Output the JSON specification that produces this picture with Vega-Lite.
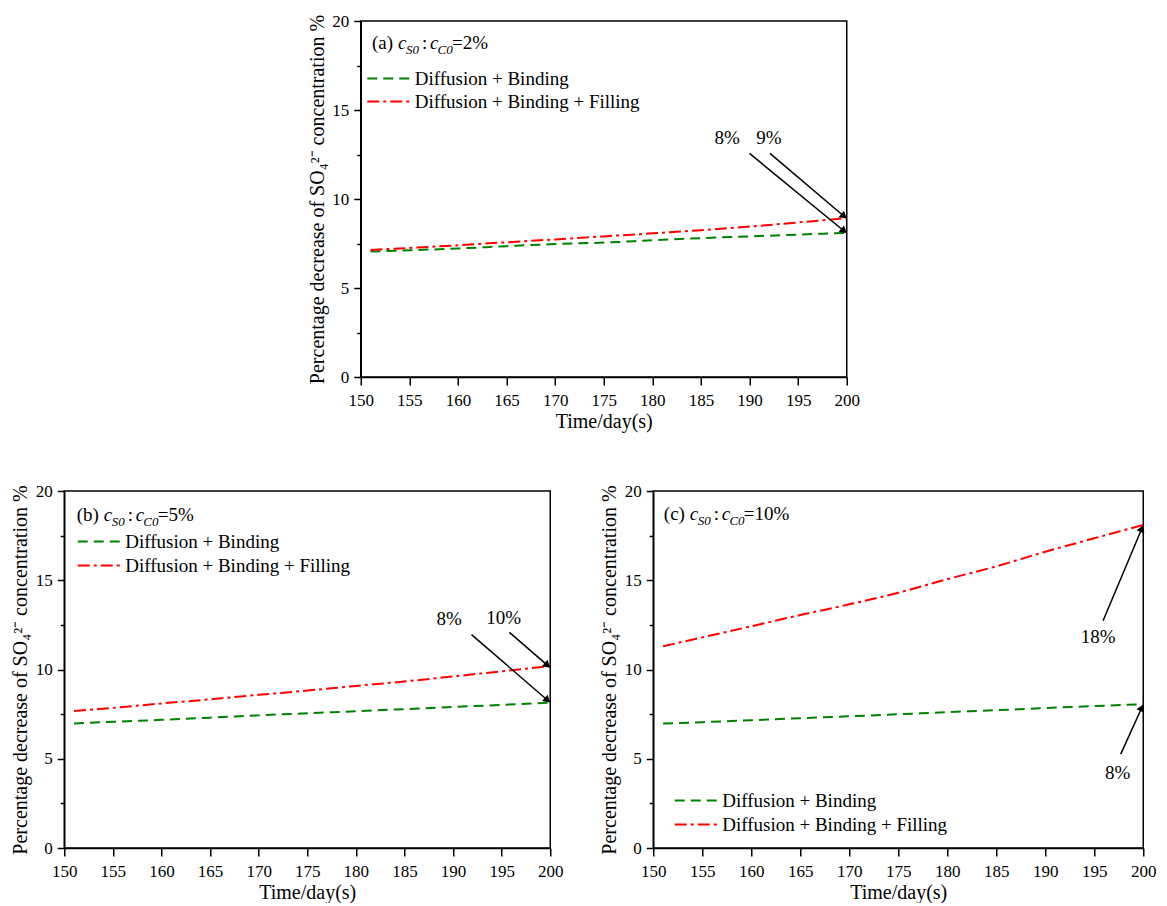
{
  "$schema": "https://vega.github.io/schema/vega-lite/v6.json",
  "padding": {"left": 10, "top": 11, "right": 5, "bottom": 0},
  "config": {
    "font": "Liberation Serif",
    "view": {"stroke": "black", "strokeWidth": 1.5},
    "axis": {"domainColor": "black", "domainWidth": 1.5, "tickColor": "black", "tickWidth": 1.5, "grid": false, "labelFont": "Liberation Serif", "labelFontSize": 17, "labelColor": "black", "titleFont": "Liberation Serif", "titleFontSize": 20, "titleFontWeight": "normal", "titleColor": "black", "labelFlush": false, "labelOverlap": false},
    "legend": {"labelFont": "Liberation Serif", "labelFontSize": 19, "labelColor": "black", "padding": 0, "labelLimit": 0, "symbolType": "M-3,0H3", "symbolSize": 196, "symbolStrokeWidth": 2, "labelOffset": 17, "title": null},
    "text": {"font": "Liberation Serif", "color": "black"}
  },
  "datasets": {
    "curves": [
      {"panel": "a", "series": "Diffusion + Binding", "day": 151, "value": 7.05},
      {"panel": "a", "series": "Diffusion + Binding", "day": 155, "value": 7.12},
      {"panel": "a", "series": "Diffusion + Binding", "day": 160, "value": 7.22},
      {"panel": "a", "series": "Diffusion + Binding", "day": 165, "value": 7.35},
      {"panel": "a", "series": "Diffusion + Binding", "day": 170, "value": 7.47},
      {"panel": "a", "series": "Diffusion + Binding", "day": 175, "value": 7.55},
      {"panel": "a", "series": "Diffusion + Binding", "day": 180, "value": 7.68},
      {"panel": "a", "series": "Diffusion + Binding", "day": 185, "value": 7.8},
      {"panel": "a", "series": "Diffusion + Binding", "day": 190, "value": 7.9},
      {"panel": "a", "series": "Diffusion + Binding", "day": 195, "value": 8.0},
      {"panel": "a", "series": "Diffusion + Binding", "day": 200, "value": 8.1},
      {"panel": "a", "series": "Diffusion + Binding + Filling", "day": 151, "value": 7.14},
      {"panel": "a", "series": "Diffusion + Binding + Filling", "day": 155, "value": 7.25},
      {"panel": "a", "series": "Diffusion + Binding + Filling", "day": 160, "value": 7.4},
      {"panel": "a", "series": "Diffusion + Binding + Filling", "day": 165, "value": 7.57},
      {"panel": "a", "series": "Diffusion + Binding + Filling", "day": 170, "value": 7.73},
      {"panel": "a", "series": "Diffusion + Binding + Filling", "day": 175, "value": 7.9},
      {"panel": "a", "series": "Diffusion + Binding + Filling", "day": 180, "value": 8.07},
      {"panel": "a", "series": "Diffusion + Binding + Filling", "day": 185, "value": 8.25},
      {"panel": "a", "series": "Diffusion + Binding + Filling", "day": 190, "value": 8.45},
      {"panel": "a", "series": "Diffusion + Binding + Filling", "day": 195, "value": 8.68},
      {"panel": "a", "series": "Diffusion + Binding + Filling", "day": 200, "value": 8.93},
      {"panel": "b", "series": "Diffusion + Binding", "day": 151, "value": 6.98},
      {"panel": "b", "series": "Diffusion + Binding", "day": 155, "value": 7.07},
      {"panel": "b", "series": "Diffusion + Binding", "day": 160, "value": 7.18},
      {"panel": "b", "series": "Diffusion + Binding", "day": 165, "value": 7.3},
      {"panel": "b", "series": "Diffusion + Binding", "day": 170, "value": 7.43},
      {"panel": "b", "series": "Diffusion + Binding", "day": 175, "value": 7.55},
      {"panel": "b", "series": "Diffusion + Binding", "day": 180, "value": 7.66},
      {"panel": "b", "series": "Diffusion + Binding", "day": 185, "value": 7.78},
      {"panel": "b", "series": "Diffusion + Binding", "day": 190, "value": 7.9},
      {"panel": "b", "series": "Diffusion + Binding", "day": 195, "value": 8.02},
      {"panel": "b", "series": "Diffusion + Binding", "day": 200, "value": 8.15},
      {"panel": "b", "series": "Diffusion + Binding + Filling", "day": 151, "value": 7.68},
      {"panel": "b", "series": "Diffusion + Binding + Filling", "day": 155, "value": 7.85},
      {"panel": "b", "series": "Diffusion + Binding + Filling", "day": 160, "value": 8.1},
      {"panel": "b", "series": "Diffusion + Binding + Filling", "day": 165, "value": 8.33},
      {"panel": "b", "series": "Diffusion + Binding + Filling", "day": 170, "value": 8.58},
      {"panel": "b", "series": "Diffusion + Binding + Filling", "day": 175, "value": 8.82},
      {"panel": "b", "series": "Diffusion + Binding + Filling", "day": 180, "value": 9.08},
      {"panel": "b", "series": "Diffusion + Binding + Filling", "day": 185, "value": 9.33},
      {"panel": "b", "series": "Diffusion + Binding + Filling", "day": 190, "value": 9.61},
      {"panel": "b", "series": "Diffusion + Binding + Filling", "day": 195, "value": 9.9},
      {"panel": "b", "series": "Diffusion + Binding + Filling", "day": 200, "value": 10.2},
      {"panel": "c", "series": "Diffusion + Binding", "day": 151, "value": 6.97},
      {"panel": "c", "series": "Diffusion + Binding", "day": 155, "value": 7.05},
      {"panel": "c", "series": "Diffusion + Binding", "day": 160, "value": 7.16},
      {"panel": "c", "series": "Diffusion + Binding", "day": 165, "value": 7.27},
      {"panel": "c", "series": "Diffusion + Binding", "day": 170, "value": 7.38},
      {"panel": "c", "series": "Diffusion + Binding", "day": 175, "value": 7.49},
      {"panel": "c", "series": "Diffusion + Binding", "day": 180, "value": 7.61},
      {"panel": "c", "series": "Diffusion + Binding", "day": 185, "value": 7.72},
      {"panel": "c", "series": "Diffusion + Binding", "day": 190, "value": 7.84},
      {"panel": "c", "series": "Diffusion + Binding", "day": 195, "value": 7.95},
      {"panel": "c", "series": "Diffusion + Binding", "day": 200, "value": 8.06},
      {"panel": "c", "series": "Diffusion + Binding + Filling", "day": 151, "value": 11.3},
      {"panel": "c", "series": "Diffusion + Binding + Filling", "day": 155, "value": 11.8},
      {"panel": "c", "series": "Diffusion + Binding + Filling", "day": 160, "value": 12.42},
      {"panel": "c", "series": "Diffusion + Binding + Filling", "day": 165, "value": 13.05},
      {"panel": "c", "series": "Diffusion + Binding + Filling", "day": 170, "value": 13.65},
      {"panel": "c", "series": "Diffusion + Binding + Filling", "day": 175, "value": 14.3},
      {"panel": "c", "series": "Diffusion + Binding + Filling", "day": 180, "value": 15.06},
      {"panel": "c", "series": "Diffusion + Binding + Filling", "day": 185, "value": 15.78},
      {"panel": "c", "series": "Diffusion + Binding + Filling", "day": 190, "value": 16.6},
      {"panel": "c", "series": "Diffusion + Binding + Filling", "day": 195, "value": 17.35},
      {"panel": "c", "series": "Diffusion + Binding + Filling", "day": 200, "value": 18.1}
    ],
    "arrows": [
      {"panel": "a", "x0": 190.0, "y0": 12.56, "x1": 199.72, "y1": 8.2},
      {"panel": "a", "x0": 192.1, "y0": 12.56, "x1": 199.72, "y1": 9.03},
      {"panel": "b", "x0": 191.9, "y0": 11.95, "x1": 199.72, "y1": 8.28},
      {"panel": "b", "x0": 195.8, "y0": 12.08, "x1": 199.72, "y1": 10.23},
      {"panel": "c", "x0": 195.9, "y0": 12.73, "x1": 199.86, "y1": 17.9},
      {"panel": "c", "x0": 197.7, "y0": 5.26, "x1": 199.85, "y1": 7.86}
    ],
    "annot": [
      {"panel": "a", "text": "8%", "x": 187.7, "y": 13.4},
      {"panel": "a", "text": "9%", "x": 192.0, "y": 13.4},
      {"panel": "b", "text": "8%", "x": 189.6, "y": 12.83},
      {"panel": "b", "text": "10%", "x": 195.2, "y": 12.9},
      {"panel": "c", "text": "18%", "x": 195.4, "y": 11.8},
      {"panel": "c", "text": "8%", "x": 197.4, "y": 4.18}
    ],
    "titles": [
      {"panel": "a", "part": "normal", "text": "(a)", "x": 151.16, "y": 18.4},
      {"panel": "a", "part": "italic", "text": "c", "x": 153.83, "y": 18.4},
      {"panel": "a", "part": "sub", "text": "S0", "x": 154.66, "y": 18.12},
      {"panel": "a", "part": "normal", "text": ":", "x": 156.31, "y": 18.4},
      {"panel": "a", "part": "italic", "text": "c", "x": 157.13, "y": 18.4},
      {"panel": "a", "part": "sub", "text": "C0", "x": 157.9, "y": 18.12},
      {"panel": "a", "part": "normal", "text": "=2%", "x": 159.39, "y": 18.4},
      {"panel": "b", "part": "normal", "text": "(b)", "x": 151.29, "y": 18.31},
      {"panel": "b", "part": "italic", "text": "c", "x": 154.07, "y": 18.31},
      {"panel": "b", "part": "sub", "text": "S0", "x": 154.89, "y": 18.03},
      {"panel": "b", "part": "normal", "text": ":", "x": 156.54, "y": 18.31},
      {"panel": "b", "part": "italic", "text": "c", "x": 157.36, "y": 18.31},
      {"panel": "b", "part": "sub", "text": "C0", "x": 158.13, "y": 18.03},
      {"panel": "b", "part": "normal", "text": "=5%", "x": 159.62, "y": 18.31},
      {"panel": "c", "part": "normal", "text": "(c)", "x": 151.08, "y": 18.4},
      {"panel": "c", "part": "italic", "text": "c", "x": 153.73, "y": 18.4},
      {"panel": "c", "part": "sub", "text": "S0", "x": 154.55, "y": 18.12},
      {"panel": "c", "part": "normal", "text": ":", "x": 156.18, "y": 18.4},
      {"panel": "c", "part": "italic", "text": "c", "x": 157.0, "y": 18.4},
      {"panel": "c", "part": "sub", "text": "C0", "x": 157.77, "y": 18.12},
      {"panel": "c", "part": "normal", "text": "=10%", "x": 159.24, "y": 18.4}
    ]
  },
  "spacing": 49,
  "center": true,
  "resolve": {"scale": {"color": "independent", "strokeDash": "independent"}, "legend": {"color": "independent", "strokeDash": "independent"}},
  "vconcat": [
    {
      "width": 486, "height": 356,
      "layer": [
        {"data": {"name": "curves"}, "transform": [{"filter": "datum.panel === 'a'"}],
         "mark": {"type": "line", "strokeWidth": 2, "interpolate": "monotone"},
         "encoding": {
           "x": {"field": "day", "type": "quantitative", "scale": {"domain": [150, 200], "nice": false, "zero": false},
                 "axis": {"title": "Time/day(s)", "values": [150,152.5,155,157.5,160,162.5,165,167.5,170,172.5,175,177.5,180,182.5,185,187.5,190,192.5,195,197.5,200], "labelExpr": "datum.value % 5 === 0 ? '' + datum.value : ''", "tickSize": {"condition": {"test": "datum.value % 5 === 0", "value": 8}, "value": 4}, "labelPadding": 7, "titlePadding": 3}},
           "y": {"field": "value", "type": "quantitative", "scale": {"domain": [0, 20], "nice": false},
                 "axis": {"title": "Percentage decrease of SO₄²⁻ concentration %", "values": [0,2.5,5,7.5,10,12.5,15,17.5,20], "labelExpr": "datum.value % 5 === 0 ? '' + datum.value : ''", "tickSize": {"condition": {"test": "datum.value % 5 === 0", "value": 7}, "value": 4}, "labelPadding": 5, "titlePadding": 4.5}},
           "color": {"field": "series", "type": "nominal", "scale": {"domain": ["Diffusion + Binding", "Diffusion + Binding + Filling"], "range": ["#008000", "#ff0000"]},
                     "legend": {"orient": "none", "legendX": 18, "legendY": 48, "rowPadding": 3}},
           "strokeDash": {"field": "series", "type": "nominal", "scale": {"domain": ["Diffusion + Binding", "Diffusion + Binding + Filling"], "range": [[10, 6], [12, 4, 3, 4]]},
                     "legend": {"orient": "none", "legendX": 18, "legendY": 48, "rowPadding": 3}}
         }},
        {"data": {"name": "arrows"}, "transform": [{"filter": "datum.panel === 'a'"}],
         "mark": {"type": "rule", "color": "black", "strokeWidth": 1.5},
         "encoding": {"x": {"field": "x0", "type": "quantitative", "scale": {"domain": [150, 200]}}, "y": {"field": "y0", "type": "quantitative", "scale": {"domain": [0, 20]}}, "x2": {"field": "x1"}, "y2": {"field": "y1"}}},
        {"data": {"name": "arrows"}, "transform": [{"filter": "datum.panel === 'a'"}],
         "mark": {"type": "point", "shape": "triangle-up", "filled": true, "color": "black", "opacity": 1, "size": 70, "angle": 130},
         "encoding": {"x": {"field": "x1", "type": "quantitative", "scale": {"domain": [150, 200]}}, "y": {"field": "y1", "type": "quantitative", "scale": {"domain": [0, 20]}}}},
        {"data": {"name": "annot"}, "transform": [{"filter": "datum.panel === 'a'"}],
         "mark": {"type": "text", "fontSize": 19, "align": "center", "baseline": "middle"},
         "encoding": {"x": {"field": "x", "type": "quantitative", "scale": {"domain": [150, 200]}}, "y": {"field": "y", "type": "quantitative", "scale": {"domain": [0, 20]}}, "text": {"field": "text"}}},
        {"data": {"name": "titles"}, "transform": [{"filter": "datum.panel === 'a' && datum.part === 'normal'"}],
         "mark": {"type": "text", "fontSize": 19, "align": "left", "baseline": "alphabetic"},
         "encoding": {"x": {"field": "x", "type": "quantitative", "scale": {"domain": [150, 200]}}, "y": {"field": "y", "type": "quantitative", "scale": {"domain": [0, 20]}}, "text": {"field": "text"}}},
        {"data": {"name": "titles"}, "transform": [{"filter": "datum.panel === 'a' && datum.part === 'italic'"}],
         "mark": {"type": "text", "fontSize": 19, "fontStyle": "italic", "align": "left", "baseline": "alphabetic"},
         "encoding": {"x": {"field": "x", "type": "quantitative", "scale": {"domain": [150, 200]}}, "y": {"field": "y", "type": "quantitative", "scale": {"domain": [0, 20]}}, "text": {"field": "text"}}},
        {"data": {"name": "titles"}, "transform": [{"filter": "datum.panel === 'a' && datum.part === 'sub'"}],
         "mark": {"type": "text", "fontSize": 13, "fontStyle": "italic", "align": "left", "baseline": "alphabetic"},
         "encoding": {"x": {"field": "x", "type": "quantitative", "scale": {"domain": [150, 200]}}, "y": {"field": "y", "type": "quantitative", "scale": {"domain": [0, 20]}}, "text": {"field": "text"}}}
      ]
    },
    {
      "spacing": 34,
      "resolve": {"scale": {"color": "independent", "strokeDash": "independent"}, "legend": {"color": "independent", "strokeDash": "independent"}},
      "hconcat": [
        {
          "width": 486, "height": 357,
          "layer": [
            {"data": {"name": "curves"}, "transform": [{"filter": "datum.panel === 'b'"}],
             "mark": {"type": "line", "strokeWidth": 2, "interpolate": "monotone"},
             "encoding": {
               "x": {"field": "day", "type": "quantitative", "scale": {"domain": [150, 200], "nice": false, "zero": false},
                     "axis": {"title": "Time/day(s)", "values": [150,152.5,155,157.5,160,162.5,165,167.5,170,172.5,175,177.5,180,182.5,185,187.5,190,192.5,195,197.5,200], "labelExpr": "datum.value % 5 === 0 ? '' + datum.value : ''", "tickSize": {"condition": {"test": "datum.value % 5 === 0", "value": 8}, "value": 4}, "labelPadding": 7, "titlePadding": 3}},
               "y": {"field": "value", "type": "quantitative", "scale": {"domain": [0, 20], "nice": false},
                     "axis": {"title": "Percentage decrease of SO₄²⁻ concentration %", "values": [0,2.5,5,7.5,10,12.5,15,17.5,20], "labelExpr": "datum.value % 5 === 0 ? '' + datum.value : ''", "tickSize": {"condition": {"test": "datum.value % 5 === 0", "value": 7}, "value": 4}, "labelPadding": 5, "titlePadding": 4.5}},
               "color": {"field": "series", "type": "nominal", "scale": {"domain": ["Diffusion + Binding", "Diffusion + Binding + Filling"], "range": ["#008000", "#ff0000"]},
                         "legend": {"orient": "none", "legendX": 25, "legendY": 41, "rowPadding": 4}},
               "strokeDash": {"field": "series", "type": "nominal", "scale": {"domain": ["Diffusion + Binding", "Diffusion + Binding + Filling"], "range": [[10, 6], [12, 4, 3, 4]]},
                         "legend": {"orient": "none", "legendX": 25, "legendY": 41, "rowPadding": 4}}
             }},
            {"data": {"name": "arrows"}, "transform": [{"filter": "datum.panel === 'b'"}],
             "mark": {"type": "rule", "color": "black", "strokeWidth": 1.5},
             "encoding": {"x": {"field": "x0", "type": "quantitative", "scale": {"domain": [150, 200]}}, "y": {"field": "y0", "type": "quantitative", "scale": {"domain": [0, 20]}}, "x2": {"field": "x1"}, "y2": {"field": "y1"}}},
            {"data": {"name": "arrows"}, "transform": [{"filter": "datum.panel === 'b'"}],
             "mark": {"type": "point", "shape": "triangle-up", "filled": true, "color": "black", "opacity": 1, "size": 70, "angle": 131},
             "encoding": {"x": {"field": "x1", "type": "quantitative", "scale": {"domain": [150, 200]}}, "y": {"field": "y1", "type": "quantitative", "scale": {"domain": [0, 20]}}}},
            {"data": {"name": "annot"}, "transform": [{"filter": "datum.panel === 'b'"}],
             "mark": {"type": "text", "fontSize": 19, "align": "center", "baseline": "middle"},
             "encoding": {"x": {"field": "x", "type": "quantitative", "scale": {"domain": [150, 200]}}, "y": {"field": "y", "type": "quantitative", "scale": {"domain": [0, 20]}}, "text": {"field": "text"}}},
            {"data": {"name": "titles"}, "transform": [{"filter": "datum.panel === 'b' && datum.part === 'normal'"}],
             "mark": {"type": "text", "fontSize": 19, "align": "left", "baseline": "alphabetic"},
             "encoding": {"x": {"field": "x", "type": "quantitative", "scale": {"domain": [150, 200]}}, "y": {"field": "y", "type": "quantitative", "scale": {"domain": [0, 20]}}, "text": {"field": "text"}}},
            {"data": {"name": "titles"}, "transform": [{"filter": "datum.panel === 'b' && datum.part === 'italic'"}],
             "mark": {"type": "text", "fontSize": 19, "fontStyle": "italic", "align": "left", "baseline": "alphabetic"},
             "encoding": {"x": {"field": "x", "type": "quantitative", "scale": {"domain": [150, 200]}}, "y": {"field": "y", "type": "quantitative", "scale": {"domain": [0, 20]}}, "text": {"field": "text"}}},
            {"data": {"name": "titles"}, "transform": [{"filter": "datum.panel === 'b' && datum.part === 'sub'"}],
             "mark": {"type": "text", "fontSize": 13, "fontStyle": "italic", "align": "left", "baseline": "alphabetic"},
             "encoding": {"x": {"field": "x", "type": "quantitative", "scale": {"domain": [150, 200]}}, "y": {"field": "y", "type": "quantitative", "scale": {"domain": [0, 20]}}, "text": {"field": "text"}}}
          ]
        },
        {
          "width": 490, "height": 357,
          "layer": [
            {"data": {"name": "curves"}, "transform": [{"filter": "datum.panel === 'c'"}],
             "mark": {"type": "line", "strokeWidth": 2, "interpolate": "monotone"},
             "encoding": {
               "x": {"field": "day", "type": "quantitative", "scale": {"domain": [150, 200], "nice": false, "zero": false},
                     "axis": {"title": "Time/day(s)", "values": [150,152.5,155,157.5,160,162.5,165,167.5,170,172.5,175,177.5,180,182.5,185,187.5,190,192.5,195,197.5,200], "labelExpr": "datum.value % 5 === 0 ? '' + datum.value : ''", "tickSize": {"condition": {"test": "datum.value % 5 === 0", "value": 8}, "value": 4}, "labelPadding": 7, "titlePadding": 3}},
               "y": {"field": "value", "type": "quantitative", "scale": {"domain": [0, 20], "nice": false},
                     "axis": {"title": "Percentage decrease of SO₄²⁻ concentration %", "values": [0,2.5,5,7.5,10,12.5,15,17.5,20], "labelExpr": "datum.value % 5 === 0 ? '' + datum.value : ''", "tickSize": {"condition": {"test": "datum.value % 5 === 0", "value": 7}, "value": 4}, "labelPadding": 5, "titlePadding": 4.5}},
               "color": {"field": "series", "type": "nominal", "scale": {"domain": ["Diffusion + Binding", "Diffusion + Binding + Filling"], "range": ["#008000", "#ff0000"]},
                         "legend": {"orient": "none", "legendX": 33, "legendY": 300, "rowPadding": 4}},
               "strokeDash": {"field": "series", "type": "nominal", "scale": {"domain": ["Diffusion + Binding", "Diffusion + Binding + Filling"], "range": [[10, 6], [12, 4, 3, 4]]},
                         "legend": {"orient": "none", "legendX": 33, "legendY": 300, "rowPadding": 4}}
             }},
            {"data": {"name": "arrows"}, "transform": [{"filter": "datum.panel === 'c'"}],
             "mark": {"type": "rule", "color": "black", "strokeWidth": 1.5},
             "encoding": {"x": {"field": "x0", "type": "quantitative", "scale": {"domain": [150, 200]}}, "y": {"field": "y0", "type": "quantitative", "scale": {"domain": [0, 20]}}, "x2": {"field": "x1"}, "y2": {"field": "y1"}}},
            {"data": {"name": "arrows"}, "transform": [{"filter": "datum.panel === 'c'"}],
             "mark": {"type": "point", "shape": "triangle-up", "filled": true, "color": "black", "opacity": 1, "size": 70, "angle": 23.5},
             "encoding": {"x": {"field": "x1", "type": "quantitative", "scale": {"domain": [150, 200]}}, "y": {"field": "y1", "type": "quantitative", "scale": {"domain": [0, 20]}}}},
            {"data": {"name": "annot"}, "transform": [{"filter": "datum.panel === 'c'"}],
             "mark": {"type": "text", "fontSize": 19, "align": "center", "baseline": "middle"},
             "encoding": {"x": {"field": "x", "type": "quantitative", "scale": {"domain": [150, 200]}}, "y": {"field": "y", "type": "quantitative", "scale": {"domain": [0, 20]}}, "text": {"field": "text"}}},
            {"data": {"name": "titles"}, "transform": [{"filter": "datum.panel === 'c' && datum.part === 'normal'"}],
             "mark": {"type": "text", "fontSize": 19, "align": "left", "baseline": "alphabetic"},
             "encoding": {"x": {"field": "x", "type": "quantitative", "scale": {"domain": [150, 200]}}, "y": {"field": "y", "type": "quantitative", "scale": {"domain": [0, 20]}}, "text": {"field": "text"}}},
            {"data": {"name": "titles"}, "transform": [{"filter": "datum.panel === 'c' && datum.part === 'italic'"}],
             "mark": {"type": "text", "fontSize": 19, "fontStyle": "italic", "align": "left", "baseline": "alphabetic"},
             "encoding": {"x": {"field": "x", "type": "quantitative", "scale": {"domain": [150, 200]}}, "y": {"field": "y", "type": "quantitative", "scale": {"domain": [0, 20]}}, "text": {"field": "text"}}},
            {"data": {"name": "titles"}, "transform": [{"filter": "datum.panel === 'c' && datum.part === 'sub'"}],
             "mark": {"type": "text", "fontSize": 13, "fontStyle": "italic", "align": "left", "baseline": "alphabetic"},
             "encoding": {"x": {"field": "x", "type": "quantitative", "scale": {"domain": [150, 200]}}, "y": {"field": "y", "type": "quantitative", "scale": {"domain": [0, 20]}}, "text": {"field": "text"}}}
          ]
        }
      ]
    }
  ]
}
